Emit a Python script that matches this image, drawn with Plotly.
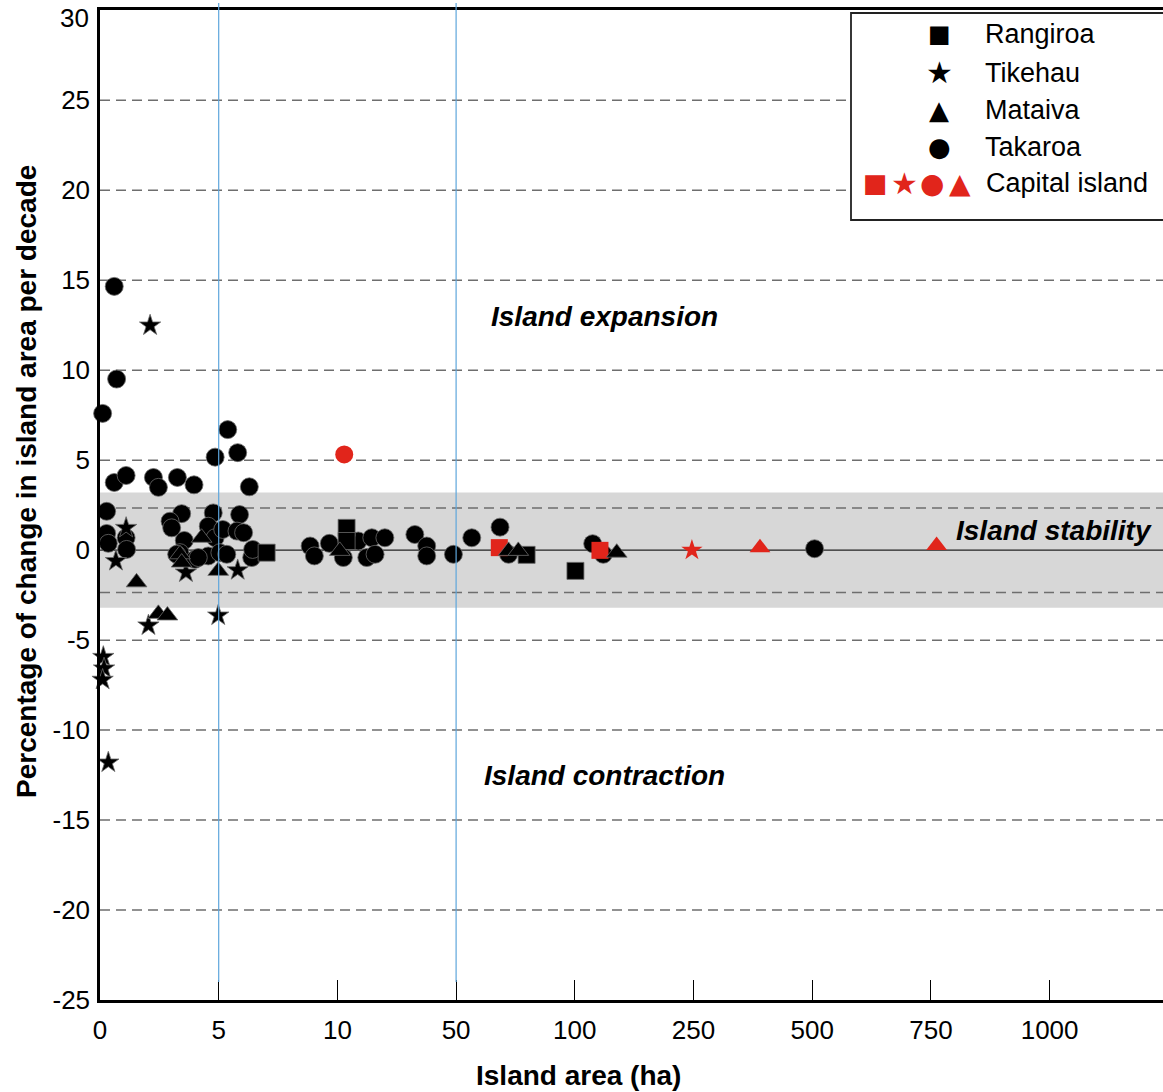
import numpy as np
import plotly.graph_objects as go

# ---------------- data ----------------
x_tick_vals = [0, 5, 10, 50, 100, 250, 500, 750, 1000]
x_tick_text = ["0", "5", "10", "50", "100", "250", "500", "750", "1000"]
y_tick_vals = [-25, -20, -15, -10, -5, 0, 5, 10, 15, 20, 25]
y_top_label = "30"

# Takaroa (circles)
takaroa_area = [0.60, 0.70, 0.11, 0.60, 1.10, 2.25, 2.46, 3.26, 3.96, 4.85,
                0.28, 0.28, 0.35, 1.10, 1.12, 3.44, 2.95, 3.02, 3.55, 4.77,
                4.56, 4.85, 3.37, 4.00, 4.56, 3.23, 4.14,
                5.38, 5.80, 6.29, 5.17, 5.88, 5.77, 6.05, 5.05, 5.34, 6.39, 6.43,
                8.85, 9.03, 9.66,
                12.0, 17.0, 19.9, 21.6, 22.7, 26.0, 36.1, 40.1, 40.1, 49.1,
                56.6, 68.5, 72.1, 122.6, 136.0, 505.0]
takaroa_change = [14.66, 9.51, 7.60, 3.76, 4.15, 4.04, 3.49, 4.04, 3.63, 5.17,
                  2.16, 0.93, 0.38, 0.69, 0.04, 2.03, 1.61, 1.24, 0.54, 2.07,
                  1.33, 0.69, -0.14, -0.51, -0.32, -0.23, -0.41,
                  6.70, 5.42, 3.52, 1.15, 1.98, 1.06, 0.97, -0.14, -0.23, -0.41, 0.04,
                  0.23, -0.32, 0.38,
                  -0.41, 0.51, -0.41, 0.69, -0.23, 0.69, 0.87, 0.23, -0.32, -0.23,
                  0.69, 1.28, -0.23, 0.36, -0.23, 0.08]

# Tikehau (stars)
tikehau_area = [2.11, 1.10, 0.67, 3.62, 5.80, 4.98, 2.04, 0.14, 0.17, 0.11, 0.35]
tikehau_change = [12.49, 1.24, -0.60, -1.24, -1.11, -3.63, -4.18, -5.93, -6.57, -7.20, -11.80]

# Mataiva (triangles)
mataiva_area = [1.54, 2.46, 2.84, 4.28, 3.37, 3.44, 4.98, 10.8, 72.1, 76.2, 153.0]
mataiva_change = [-1.79, -3.54, -3.63, 0.69, -0.23, -0.69, -1.15, -0.04, -0.04, -0.04, -0.14]

# Rangiroa (squares)
rangiroa_area = [7.02, 13.1, 13.1, 79.7, 100.8]
rangiroa_change = [-0.14, 1.24, 0.51, -0.26, -1.15]

# Capital islands (red)
cap_square_area = [68.2, 131.8]
cap_square_change = [0.14, -0.01]
cap_star_area = [248.0]
cap_star_change = [0.0]
cap_circle_area = [12.3]
cap_circle_change = [5.32]
cap_triangle_area = [390.0, 762.0]
cap_triangle_change = [0.14, 0.26]

# ---------------- helpers ----------------
tick_idx = list(range(len(x_tick_vals)))


def xpos(area):
    return np.interp(np.asarray(area, dtype=float), x_tick_vals, tick_idx)


W, H = 1163, 1092
ML, MR, MT, MB = 100, 0, 10, 92
PW, PH = W - ML - MR, H - MT - MB


def px_x(p):
    return (p - ML) / PW


def px_y(p):
    return (H - MB - p) / PH


BLACK = "#000000"
RED = "#e1251b"
OUT = dict(color="#6a6a6a", width=0.8)
FONT = "Liberation Sans, Arial, Helvetica, sans-serif"

fig = go.Figure()


def add(area, change, symbol, size, color, line):
    fig.add_trace(go.Scatter(
        x=xpos(area), y=change, mode="markers", showlegend=False,
        cliponaxis=False, hoverinfo="skip",
        marker=dict(symbol=symbol, size=size, color=color, line=line)))


add(takaroa_area, takaroa_change, "circle", 18, BLACK, OUT)
add(rangiroa_area, rangiroa_change, "square", 17, BLACK, OUT)
add(cap_square_area, cap_square_change, "square", 17, RED, dict(width=0))
add(cap_circle_area, cap_circle_change, "circle", 18, RED, dict(width=0))
add(cap_star_area, cap_star_change, "star", 16, RED, dict(width=0))
add(cap_triangle_area, cap_triangle_change, "triangle-up", 18, RED, dict(width=0))
add(tikehau_area, tikehau_change, "star", 16, BLACK, OUT)
add(mataiva_area, mataiva_change, "triangle-up", 18, BLACK, OUT)

shapes = []
# grey stability band
shapes.append(dict(type="rect", xref="paper", yref="y", x0=0, x1=1, y0=-3.2, y1=3.2,
                   fillcolor="#d7d7d7", line=dict(width=0), layer="below"))
# dashed reference lines
for yv in [25, 20, 15, 10, 5, 2.35, -2.35, -5, -10, -15, -20]:
    shapes.append(dict(type="line", xref="paper", yref="y", x0=0, x1=1, y0=yv, y1=yv,
                       line=dict(color="#6e6e6e", width=1.5, dash="10px,6px"), layer="below"))
# zero line
shapes.append(dict(type="line", xref="paper", yref="y", x0=0, x1=1, y0=0, y1=0,
                   line=dict(color="#222222", width=1.4), layer="below"))
# blue vertical lines at 5 and 50 ha
for av in [5, 50]:
    xv = float(xpos([av])[0])
    shapes.append(dict(type="line", xref="x", yref="paper", x0=xv, x1=xv,
                       y0=px_y(982), y1=px_y(3),
                       line=dict(color="#5ea6dc", width=1.2), layer="above"))
# legend box
shapes.append(dict(type="rect", xref="paper", yref="paper",
                   x0=px_x(851), x1=px_x(1175), y0=px_y(220), y1=px_y(13),
                   fillcolor="white", line=dict(color="#222222", width=1.8), layer="above"))

annotations = []
# top y tick label (placed slightly below the frame, as in the original)
annotations.append(dict(text=y_top_label, x=px_x(91), y=px_y(18), xref="paper", yref="paper",
                        showarrow=False, xanchor="right", yanchor="middle",
                        font=dict(family=FONT, size=26, color="black")))
# region labels
for txt, xv, yv in [("Island expansion", 4.246, 13.0),
                    ("Island contraction", 4.25, -12.5),
                    ("Island stability", 8.04, 1.1)]:
    annotations.append(dict(text="<b><i>%s</i></b>" % txt, x=xv, y=yv, xref="x", yref="y",
                            showarrow=False, xanchor="center", yanchor="middle",
                            font=dict(family=FONT, size=28, color="black")))

# axis titles
annotations.append(dict(text="<b>Island area (ha)</b>", x=px_x(578), y=px_y(1075),
                        xref="paper", yref="paper", showarrow=False,
                        xanchor="center", yanchor="middle",
                        font=dict(family=FONT, size=28, color="black")))
annotations.append(dict(text="<b>Percentage of change in island area per decade</b>",
                        x=px_x(27), y=px_y(482), xref="paper", yref="paper",
                        showarrow=False, textangle=-90, xanchor="center", yanchor="middle",
                        font=dict(family=FONT, size=28, color="black")))

# legend content
SYM_FONT = "DejaVu Sans, sans-serif"
legend_rows = [("Rangiroa", "■", 24, 34), ("Tikehau", "★", 30, 73),
               ("Mataiva", "▲", 26, 110), ("Takaroa", "●", 26, 147)]
for name, sym, ssize, yc in legend_rows:
    annotations.append(dict(text=name, x=px_x(983), y=px_y(yc), xref="paper", yref="paper",
                            showarrow=False, xanchor="left", yanchor="middle",
                            font=dict(family=FONT, size=27, color="black")))
    annotations.append(dict(text=sym, x=px_x(939), y=px_y(yc), xref="paper", yref="paper",
                            showarrow=False, xanchor="center", yanchor="middle",
                            font=dict(family=SYM_FONT, size=ssize, color="black")))
annotations.append(dict(text="Capital island", x=px_x(984), y=px_y(183), xref="paper",
                        yref="paper", showarrow=False, xanchor="left", yanchor="middle",
                        font=dict(family=FONT, size=27, color="black")))
for sym, ssize, xc in [("■", 26, 875), ("★", 30, 904), ("●", 28, 932), ("▲", 28, 960)]:
    annotations.append(dict(text=sym, x=px_x(xc), y=px_y(183), xref="paper", yref="paper",
                            showarrow=False, xanchor="center", yanchor="middle",
                            font=dict(family=SYM_FONT, size=ssize, color=RED)))

fig.update_layout(
    width=W, height=H, margin=dict(l=ML, r=MR, t=MT, b=MB, autoexpand=False),
    paper_bgcolor="white", plot_bgcolor="white",
    shapes=shapes, annotations=annotations,
    font=dict(family=FONT, size=26, color="black"),
    xaxis=dict(range=[0, (W - ML) / 118.7], tickvals=tick_idx, ticktext=x_tick_text,
               ticks="inside", ticklen=20, tickwidth=1, tickcolor="black",
               showline=True, linecolor="black", linewidth=2.5, mirror=True,
               showgrid=False, zeroline=False, ticklabelstandoff=5, automargin=False,
               tickfont=dict(family=FONT, size=26, color="black")),
    yaxis=dict(range=[-25, 30.02], tickvals=y_tick_vals, ticktext=[str(v) for v in y_tick_vals],
               ticks="", showline=True, linecolor="black", linewidth=2.5, mirror=False,
               showgrid=False, zeroline=False, ticklabelstandoff=2, automargin=False,
               tickfont=dict(family=FONT, size=26, color="black")),
)

fig.write_html("out.html")
